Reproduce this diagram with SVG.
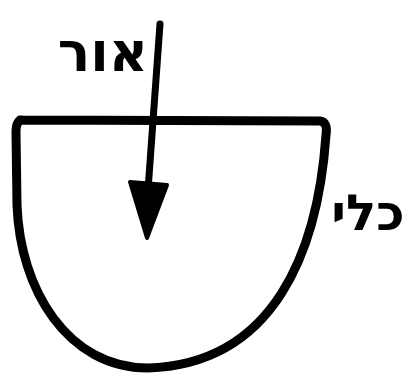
<svg xmlns="http://www.w3.org/2000/svg" width="415" height="374" viewBox="0 0 415 374">
<style>
.ink{fill:none;stroke:#000;stroke-linecap:round;stroke-linejoin:round}
.lbl{font-family:"DejaVu Sans","Noto Sans",sans-serif;font-weight:bold;fill:#000}
</style>
<rect width="415" height="374" fill="#fff"/>
<g id="vessel">
<path class="ink" stroke-width="9" d="M20,120 L320,121 Q328,122 326,135 C318,250 275,364 148,368 C68,368 20,290 17,205 L16,132 Q16,121 22,120 Z"/>
</g>
<g id="connectors">
<line class="ink" stroke-width="7" x1="160" y1="24" x2="148" y2="190"/>
<path d="M130,182 L167,185 L147,238 Z" fill="#000" stroke="#000" stroke-width="4" stroke-linejoin="round"/>
</g>
<g id="label-light">
<text class="lbl" x="103" y="71" font-size="54" text-anchor="middle">אור</text>
</g>
<g id="label-vessel">
<text class="lbl" x="368" y="230" font-size="50" text-anchor="middle">כלי</text>
</g>
</svg>
